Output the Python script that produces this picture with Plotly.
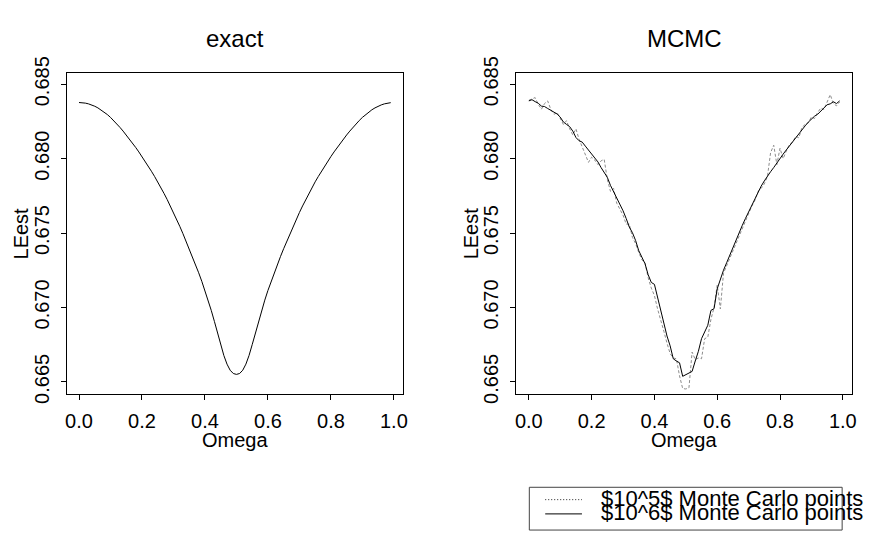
import plotly.graph_objects as go

# ---------------- data ----------------
omega = [i / 100 for i in range(100)]

exact_vals = [
    0.68377, 0.68376, 0.68373, 0.68368, 0.68361, 0.68352, 0.68341, 0.68328, 0.68313, 0.68296,
    0.68277, 0.68256, 0.68234, 0.68210, 0.68185, 0.68159, 0.68132, 0.68104, 0.68075, 0.68045,
    0.68014, 0.67982, 0.67949, 0.67915, 0.67880, 0.67844, 0.67806, 0.67766, 0.67725, 0.67682,
    0.67638, 0.67592, 0.67545, 0.67496, 0.67446, 0.67395, 0.67343, 0.67289, 0.67233, 0.67175,
    0.67114, 0.67049, 0.66980, 0.66906, 0.66828, 0.66750, 0.66677, 0.66619, 0.66578, 0.66556,
    0.66550, 0.66556, 0.66578, 0.66619, 0.66677, 0.66750, 0.66828, 0.66906, 0.66980, 0.67049,
    0.67114, 0.67175, 0.67233, 0.67289, 0.67343, 0.67395, 0.67446, 0.67496, 0.67545, 0.67592,
    0.67638, 0.67682, 0.67725, 0.67766, 0.67806, 0.67844, 0.67880, 0.67915, 0.67949, 0.67982,
    0.68014, 0.68045, 0.68075, 0.68104, 0.68132, 0.68159, 0.68185, 0.68210, 0.68234, 0.68256,
    0.68277, 0.68296, 0.68313, 0.68328, 0.68341, 0.68352, 0.68361, 0.68368, 0.68373, 0.68376,
]

mcmc_1e6 = [
    0.68388, 0.68396, 0.68383, 0.68372, 0.68353, 0.68350, 0.68337, 0.68324, 0.68316, 0.68300,
    0.68279, 0.68246, 0.68230, 0.68215, 0.68185, 0.68142, 0.68120, 0.68111, 0.68084, 0.68057,
    0.68030, 0.68002, 0.67978, 0.67940, 0.67905, 0.67874, 0.67820, 0.67778, 0.67741, 0.67690,
    0.67650, 0.67598, 0.67540, 0.67502, 0.67450, 0.67382, 0.67340, 0.67294, 0.67220, 0.67168,
    0.67155, 0.67070, 0.66968, 0.66890, 0.66808, 0.66742, 0.66655, 0.66640, 0.66628, 0.66537,
    0.66550, 0.66560, 0.66570, 0.66640, 0.66705, 0.66790, 0.66832, 0.66880, 0.66980, 0.66992,
    0.67125, 0.67190, 0.67250, 0.67300, 0.67352, 0.67398, 0.67450, 0.67500, 0.67552, 0.67598,
    0.67642, 0.67690, 0.67736, 0.67772, 0.67815, 0.67850, 0.67885, 0.67912, 0.67940, 0.67972,
    0.67998, 0.68030, 0.68058, 0.68085, 0.68120, 0.68146, 0.68168, 0.68194, 0.68220, 0.68245,
    0.68265, 0.68285, 0.68298, 0.68320, 0.68346, 0.68362, 0.68368, 0.68382, 0.68370, 0.68388,
]

mcmc_1e5 = [
    0.68392, 0.68402, 0.68410, 0.68365, 0.68332, 0.68370, 0.68388, 0.68330, 0.68298, 0.68310,
    0.68270, 0.68230, 0.68255, 0.68200, 0.68160, 0.68200, 0.68130, 0.68080, 0.68030, 0.67975,
    0.68010, 0.67990, 0.67960, 0.67985, 0.67995, 0.67860, 0.67780, 0.67800, 0.67700, 0.67660,
    0.67620, 0.67560, 0.67560, 0.67470, 0.67430, 0.67370, 0.67320, 0.67300, 0.67200, 0.67130,
    0.67080, 0.66990, 0.66920, 0.66840, 0.66760, 0.66690, 0.66660, 0.66655, 0.66540, 0.66455,
    0.66452, 0.66460, 0.66700, 0.66650, 0.66660, 0.66655, 0.66790, 0.66800, 0.66920, 0.67000,
    0.67150, 0.66990, 0.67230, 0.67280, 0.67330, 0.67390, 0.67430, 0.67490, 0.67540, 0.67580,
    0.67630, 0.67680, 0.67720, 0.67780, 0.67800, 0.67830, 0.67880, 0.68040, 0.68090, 0.67960,
    0.68070, 0.68000, 0.68050, 0.68095, 0.68110, 0.68150, 0.68140, 0.68210, 0.68230, 0.68240,
    0.68280, 0.68270, 0.68310, 0.68340, 0.68330, 0.68375, 0.68430, 0.68370, 0.68355, 0.68380,
]

x_ticks = [0.0, 0.2, 0.4, 0.6, 0.8, 1.0]
x_tick_labels = ["0.0", "0.2", "0.4", "0.6", "0.8", "1.0"]
y_ticks = [0.665, 0.670, 0.675, 0.680, 0.685]
y_tick_labels = ["0.665", "0.670", "0.675", "0.680", "0.685"]

panel_titles = ["exact", "MCMC"]
x_title = "Omega"
y_title = "LEest"
legend_labels = ["$10^5$ Monte Carlo points", "$10^6$ Monte Carlo points"]

# ---------------- layout helpers ----------------
W, H = 869, 541
FONT = "Liberation Sans, Arial, Helvetica, sans-serif"


def px(xp):
    return xp / W


def py(yp):
    return 1 - yp / H


X_RANGE = [-0.0396, 1.0296]
Y_RANGE = [0.66417, 0.68575]

fig = go.Figure()

fig.add_trace(go.Scatter(x=omega, y=exact_vals, mode="lines",
                         line=dict(color="black", width=1),
                         xaxis="x", yaxis="y", showlegend=False))
fig.add_trace(go.Scatter(x=omega, y=mcmc_1e5, mode="lines",
                         line=dict(color="#8c8c8c", width=1, dash="3px,2px"),
                         xaxis="x2", yaxis="y2", showlegend=False))
fig.add_trace(go.Scatter(x=omega, y=mcmc_1e6, mode="lines",
                         line=dict(color="black", width=1),
                         xaxis="x2", yaxis="y2", showlegend=False))

axis_common = dict(
    showline=True, mirror=True, linecolor="black", linewidth=1,
    showgrid=False, zeroline=False, ticks="outside", ticklen=5,
    tickcolor="black", tickwidth=1,
    tickfont=dict(family=FONT, size=20, color="black"),
)

xa = dict(axis_common, range=X_RANGE, tickvals=x_ticks, ticktext=x_tick_labels,
          ticklabelstandoff=4)
ya = dict(axis_common, range=Y_RANGE, tickvals=y_ticks, ticktext=y_tick_labels,
          tickangle=-90, ticklabelstandoff=4)

fig.update_layout(
    width=W, height=H,
    margin=dict(l=0, r=0, t=0, b=0),
    paper_bgcolor="white", plot_bgcolor="white",
    showlegend=False,
    xaxis=dict(xa, domain=[px(66), px(405)], anchor="y"),
    yaxis=dict(ya, domain=[py(397), py(59)], anchor="x"),
    xaxis2=dict(xa, domain=[px(519), px(857)], anchor="y2"),
    yaxis2=dict(ya, domain=[py(397), py(59)], anchor="x2"),
)

annotations = []
# panel titles
for title, cx in zip(panel_titles, [235.5, 688]):
    annotations.append(dict(text=title, x=px(cx), y=py(23), xref="paper", yref="paper",
                            xanchor="center", yanchor="middle", showarrow=False,
                            font=dict(family=FONT, size=24, color="black")))
# axis titles
for cx in [235.5, 688]:
    annotations.append(dict(text=x_title, x=px(cx), y=py(445), xref="paper", yref="paper",
                            xanchor="center", yanchor="middle", showarrow=False,
                            font=dict(family=FONT, size=20, color="black")))
for cx in [20, 473]:
    annotations.append(dict(text=y_title, x=px(cx), y=py(228), xref="paper", yref="paper",
                            xanchor="center", yanchor="middle", showarrow=False,
                            textangle=-90,
                            font=dict(family=FONT, size=20, color="black")))
# legend text
for lab, cy in zip(legend_labels, [507, 522]):
    annotations.append(dict(text=lab, x=px(602), y=py(cy), xref="paper", yref="paper",
                            xanchor="left", yanchor="middle", showarrow=False,
                            font=dict(family=FONT, size=22, color="black")))

shapes = [
    # legend box
    dict(type="rect", xref="paper", yref="paper",
         x0=px(532), x1=px(847), y0=py(540), y1=py(495),
         line=dict(color="#444444", width=1), fillcolor="rgba(0,0,0,0)"),
    # legend sample lines
    dict(type="line", xref="paper", yref="paper",
         x0=px(548), x1=px(585), y0=py(508), y1=py(508),
         line=dict(color="#222222", width=1, dash="1px,2px")),
    dict(type="line", xref="paper", yref="paper",
         x0=px(548), x1=px(585), y0=py(523), y1=py(523),
         line=dict(color="black", width=1)),
]

fig.update_layout(annotations=annotations, shapes=shapes)

fig.write_html("out.html")
